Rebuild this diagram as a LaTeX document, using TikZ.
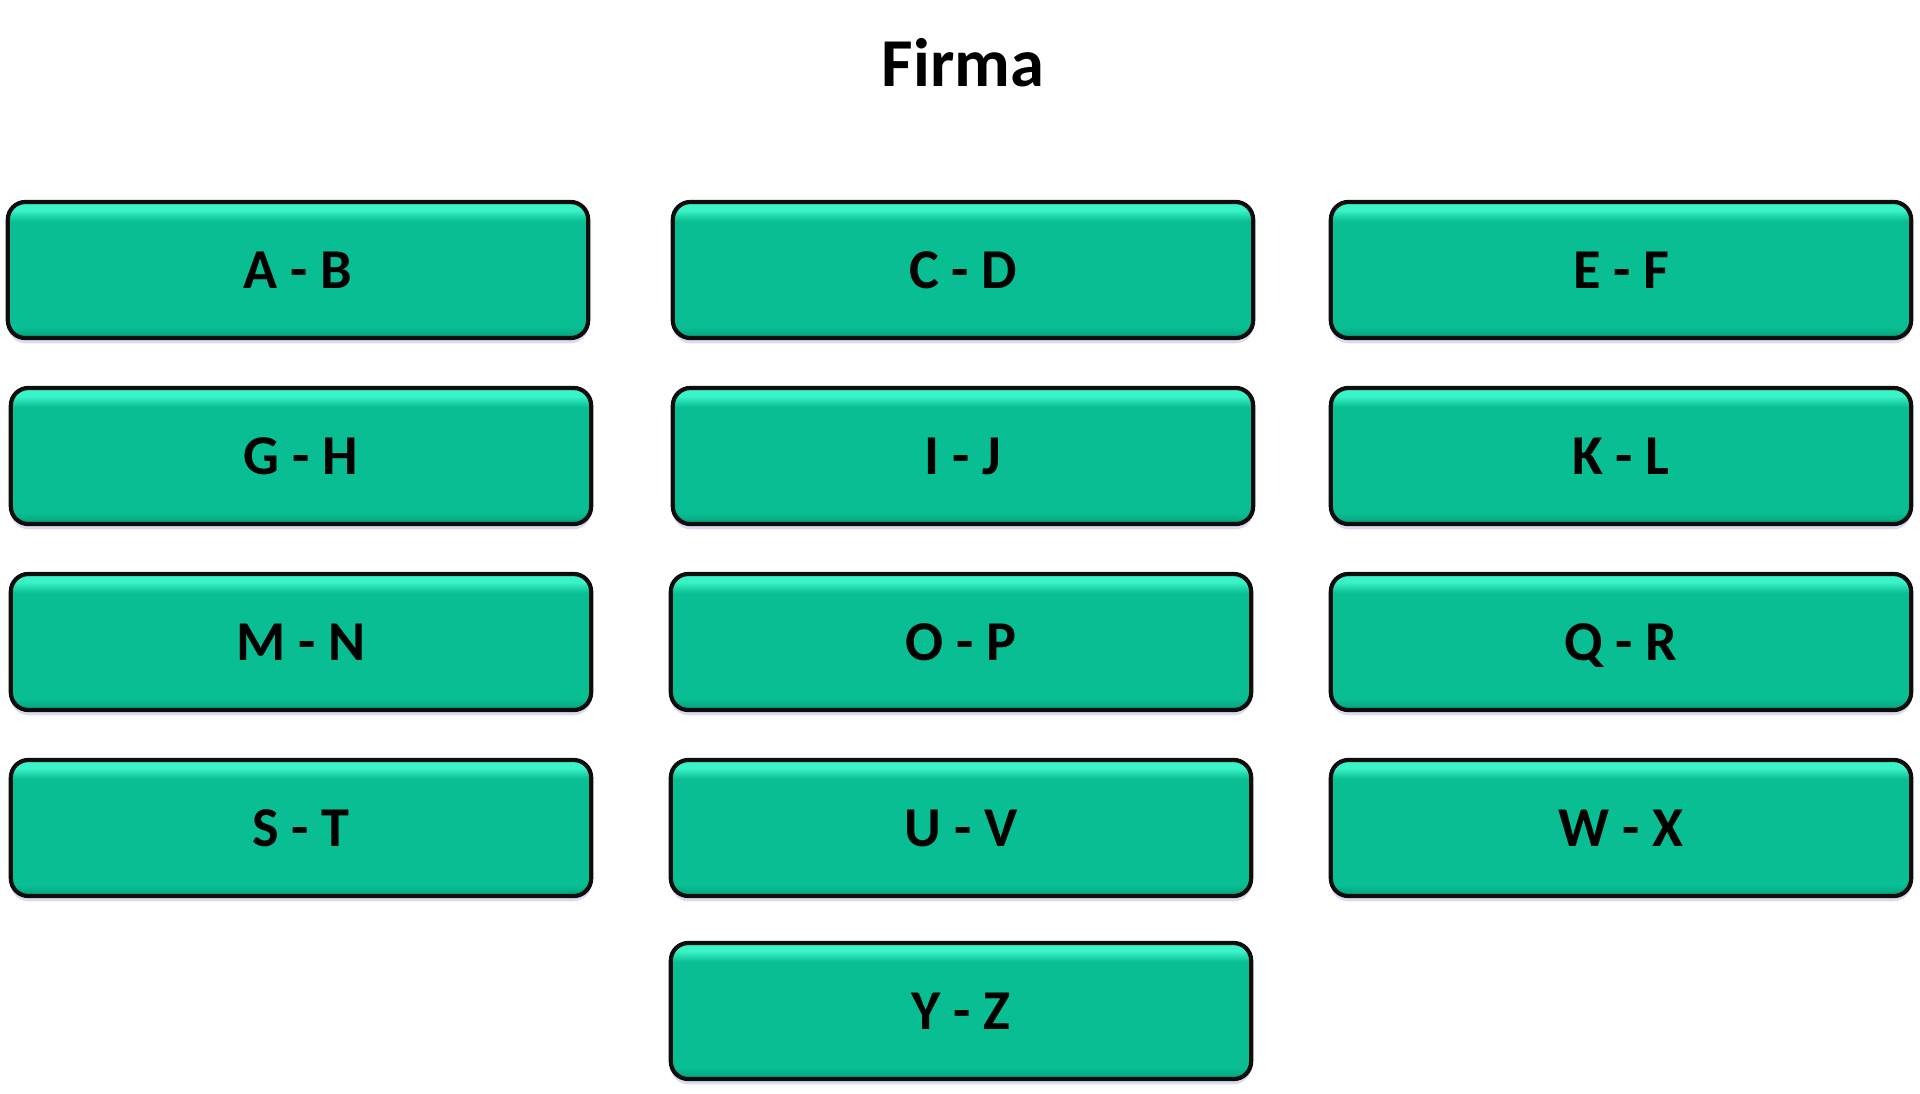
\documentclass[tikz,border=0pt]{standalone}
\usepackage{fontspec}
\setmainfont{Carlito}
\usetikzlibrary{shadows}

\definecolor{boxmain}{HTML}{08BE92}
\definecolor{boxdark}{HTML}{05A07A}
\definecolor{boxlight}{HTML}{3AF3C6}
\pgfdeclareverticalshading{boxshade}{100bp}{color(0bp)=(boxdark); color(25bp)=(boxdark); color(29bp)=(boxmain); color(68bp)=(boxmain); color(72bp)=(boxlight); color(75bp)=(boxlight); color(100bp)=(boxlight)}

\begin{document}
\begin{tikzpicture}[x=0.01cm,y=-0.01cm,
    letterbox/.style={draw=black!95,line width=1.2pt,rounded corners=5pt,shading=boxshade,
        minimum width=5.8cm,minimum height=1.36cm,inner sep=0pt,
        text height=10.3pt,text depth=0pt,
        font=\bfseries\fontsize{16}{19}\selectfont,
        drop shadow={fill=blue!40!gray,opacity=0.2,shadow xshift=0pt,shadow yshift=-1.5pt}}]
        \useasboundingbox (0,0) rectangle (1920,1093);
        \node[font=\bfseries\fontsize{19.5}{23}\selectfont] (firma) at (963,63) {Firma};
        \foreach \n/\t/\x/\y in {ab/A - B/298/270,cd/C - D/963/270,ef/E - F/1621/270,
            gh/G - H/301/456,ij/I - J/963/456,kl/K - L/1621/456,
            mn/M - N/301/642,op/O - P/961/642,qr/Q - R/1621/642,
            st/S - T/301/828,uv/U - V/961/828,wx/W - X/1621/828,
            yz/Y - Z/961/1011}
        {
            \node[letterbox] (\n) at (\x,\y) {\t};
        }
    \end{tikzpicture}
\end{document}
